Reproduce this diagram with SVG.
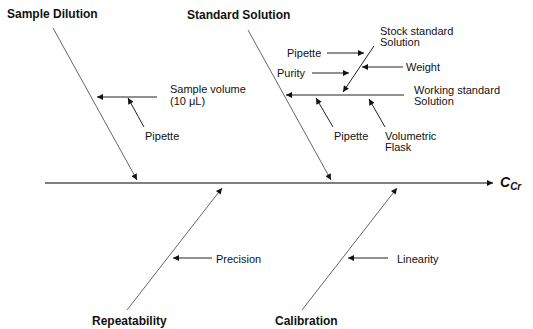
<svg xmlns="http://www.w3.org/2000/svg" width="533" height="329" viewBox="0 0 533 329">
<style>
.t{font-family:"Liberation Sans",Arial,sans-serif;font-size:11px;fill:#111}
.h{font-family:"Liberation Sans",Arial,sans-serif;font-size:12px;font-weight:bold;fill:#111}
.br{stroke:#555;stroke-width:0.9;fill:none}
.ar{stroke:#222;stroke-width:1;fill:none}
</style>
<defs>
<marker id="a" viewBox="0 0 10 10" refX="10" refY="5" markerWidth="8" markerHeight="6" markerUnits="userSpaceOnUse" orient="auto">
<path d="M0,0 L10,5 L0,10 z" fill="#111"/>
</marker>
</defs>
<g id="connectors">
<line x1="45" y1="183" x2="493" y2="183" stroke="#555" stroke-width="1.4" marker-end="url(#a)"/>
<line class="br" x1="53" y1="28" x2="137" y2="180" marker-end="url(#a)"/>
<line class="br" x1="248" y1="30" x2="331" y2="180" marker-end="url(#a)"/>
<line class="br" x1="127" y1="310" x2="222" y2="188" marker-end="url(#a)"/>
<line class="br" x1="302" y1="310" x2="397" y2="188" marker-end="url(#a)"/>
<line class="ar" x1="157" y1="97" x2="97" y2="97" stroke-width="1.3" marker-end="url(#a)"/>
<line class="ar" x1="144" y1="127" x2="128" y2="98" marker-end="url(#a)"/>
<line class="ar" x1="404" y1="95" x2="286" y2="95" stroke-width="1.3" marker-end="url(#a)"/>
<line class="ar" x1="374" y1="46" x2="343" y2="92" marker-end="url(#a)"/>
<line class="ar" x1="327" y1="53" x2="364" y2="53" marker-end="url(#a)"/>
<line class="ar" x1="312" y1="73" x2="349" y2="73" marker-end="url(#a)"/>
<line class="ar" x1="403" y1="67" x2="362" y2="67" marker-end="url(#a)"/>
<line class="ar" x1="333" y1="127" x2="316" y2="98" marker-end="url(#a)"/>
<line class="ar" x1="385" y1="127" x2="369" y2="99" marker-end="url(#a)"/>
<line class="ar" x1="212" y1="258" x2="173" y2="258" marker-end="url(#a)"/>
<line class="ar" x1="388" y1="258" x2="348" y2="258" marker-end="url(#a)"/>
</g>
<g id="effect"><text x="500" y="187" font-family="Liberation Sans,Arial,sans-serif" font-size="14" font-weight="bold" font-style="italic" fill="#111">C<tspan font-size="10" dy="3">Cr</tspan></text></g>
<g id="sample-dilution"><text class="h" x="7" y="18">Sample Dilution</text></g>
<g id="standard-solution"><text class="h" x="187" y="19">Standard Solution</text></g>
<g id="repeatability"><text class="h" x="92" y="325">Repeatability</text></g>
<g id="calibration"><text class="h" x="275" y="325">Calibration</text></g>
<g id="sample-volume"><text class="t" x="170" y="93">Sample volume</text><text class="t" x="170" y="105">(10 μL)</text></g>
<g id="pipette1"><text class="t" x="145" y="140">Pipette</text></g>
<g id="stock"><text class="t" x="380" y="35">Stock standard</text><text class="t" x="380" y="46">Solution</text></g>
<g id="pipette2"><text class="t" x="287" y="57">Pipette</text></g>
<g id="purity"><text class="t" x="277" y="77">Purity</text></g>
<g id="weight"><text class="t" x="406" y="71">Weight</text></g>
<g id="working"><text class="t" x="414" y="94">Working standard</text><text class="t" x="414" y="105">Solution</text></g>
<g id="pipette3"><text class="t" x="334" y="140">Pipette</text></g>
<g id="flask"><text class="t" x="385" y="140">Volumetric</text><text class="t" x="385" y="151">Flask</text></g>
<g id="precision"><text class="t" x="216" y="263">Precision</text></g>
<g id="linearity"><text class="t" x="397" y="263">Linearity</text></g>
</svg>
